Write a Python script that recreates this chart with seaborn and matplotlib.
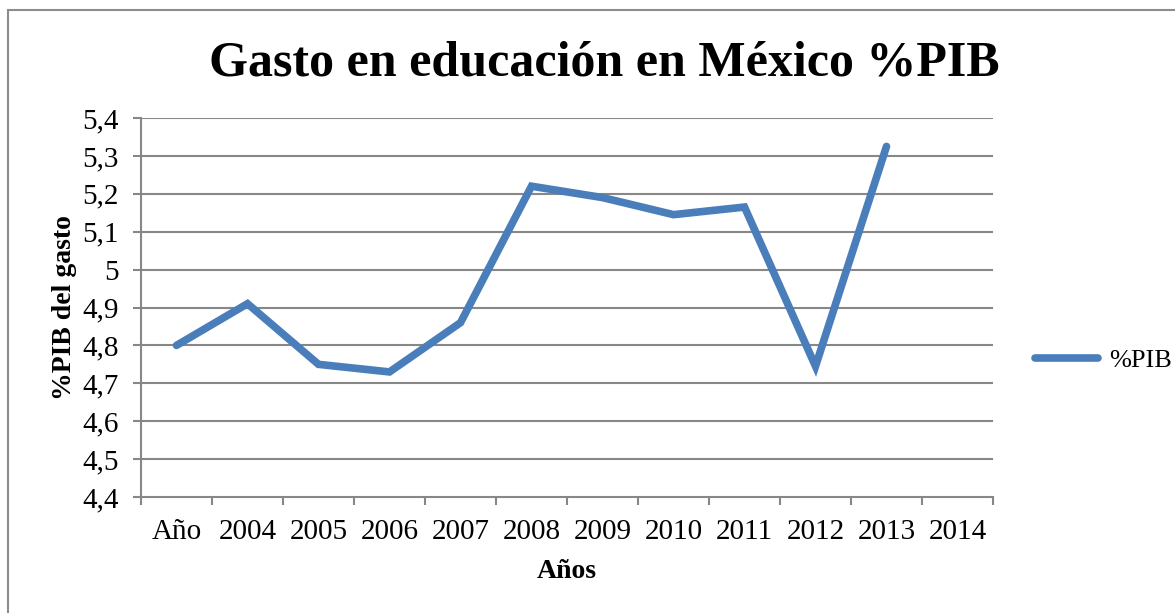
import numpy as np
import pandas as pd
import matplotlib
matplotlib.use("Agg")
import matplotlib.pyplot as plt
from matplotlib.patches import Rectangle
from matplotlib.ticker import FixedLocator, FuncFormatter
import seaborn as sns

# Datos
categorias = ["Año", "2004", "2005", "2006", "2007", "2008", "2009",
              "2010", "2011", "2012", "2013", "2014"]
pib = [4.80, 4.91, 4.75, 4.73, 4.86, 5.22, 5.19, 5.145, 5.165, 4.745, 5.325]
y_ticks = [4.4, 4.5, 4.6, 4.7, 4.8, 4.9, 5.0, 5.1, 5.2, 5.3, 5.4]

sns.set_theme(style="white")
plt.rcParams["font.family"] = ["Liberation Serif", "DejaVu Serif"]
plt.rcParams["text.color"] = "black"
plt.rcParams["axes.labelcolor"] = "black"

df = pd.DataFrame({"pos": np.arange(len(pib)), "%PIB": pib})

W, H = 1175, 613
fig = plt.figure(figsize=(W / 100, H / 100), dpi=100)
ax = fig.add_axes([141 / W, 1 - 497 / H, (993 - 141) / W, (497 - 118) / H])

grid_col = "#878787"
for v in y_ticks[1:]:
    ax.axhline(v, color=grid_col, lw=1.5, zorder=1)

sns.lineplot(data=df, x="pos", y="%PIB", ax=ax, color="#4A7EBB", lw=5.5,
             solid_capstyle="round", solid_joinstyle="miter", label="%PIB", zorder=3)

ax.set_xlim(-0.5, len(categorias) - 0.5)
ax.set_ylim(4.4, 5.4)

ax.set_xticks(np.arange(len(categorias)))
ax.set_xticklabels(categorias, fontsize=21)
ax.xaxis.set_minor_locator(FixedLocator(np.arange(len(categorias) + 1) - 0.5))
ax.tick_params(axis="x", which="major", length=0, pad=16, labelcolor="black")
ax.tick_params(axis="x", which="minor", length=6, width=1.5, color=grid_col, direction="out", bottom=True)

ax.set_yticks(y_ticks)
ax.yaxis.set_major_formatter(FuncFormatter(lambda v, _: f"{v:g}".replace(".", ",")))
ax.tick_params(axis="y", length=6, width=1.5, color=grid_col, direction="out", left=True,
               labelsize=21, pad=10, labelcolor="black")

for s in ["top", "right"]:
    ax.spines[s].set_visible(False)
for s in ["left", "bottom"]:
    ax.spines[s].set_color(grid_col)
    ax.spines[s].set_linewidth(1.5)

ax.set_xlabel("Años", fontsize=20, fontweight="bold", labelpad=10)
ax.set_ylabel("%PIB del gasto", fontsize=20, fontweight="bold", labelpad=4)

fig.text(604 / W, 1 - 64 / H, "Gasto en educación en México %PIB",
         ha="center", va="center", fontsize=36, fontweight="bold")

ax.legend(loc="center left", bbox_to_anchor=(1035 / W, 1 - 360 / H), bbox_transform=fig.transFigure,
          frameon=False, fontsize=19, handlelength=2.4, handletextpad=0.4, borderpad=0, borderaxespad=0)

fig.patches.append(Rectangle((8 / W, -0.05), 1.2, 1 - 10 / H + 0.05, transform=fig.transFigure,
                             fill=False, edgecolor="#8c8c8c", lw=1.5))

fig.savefig("out.png", dpi=100)
